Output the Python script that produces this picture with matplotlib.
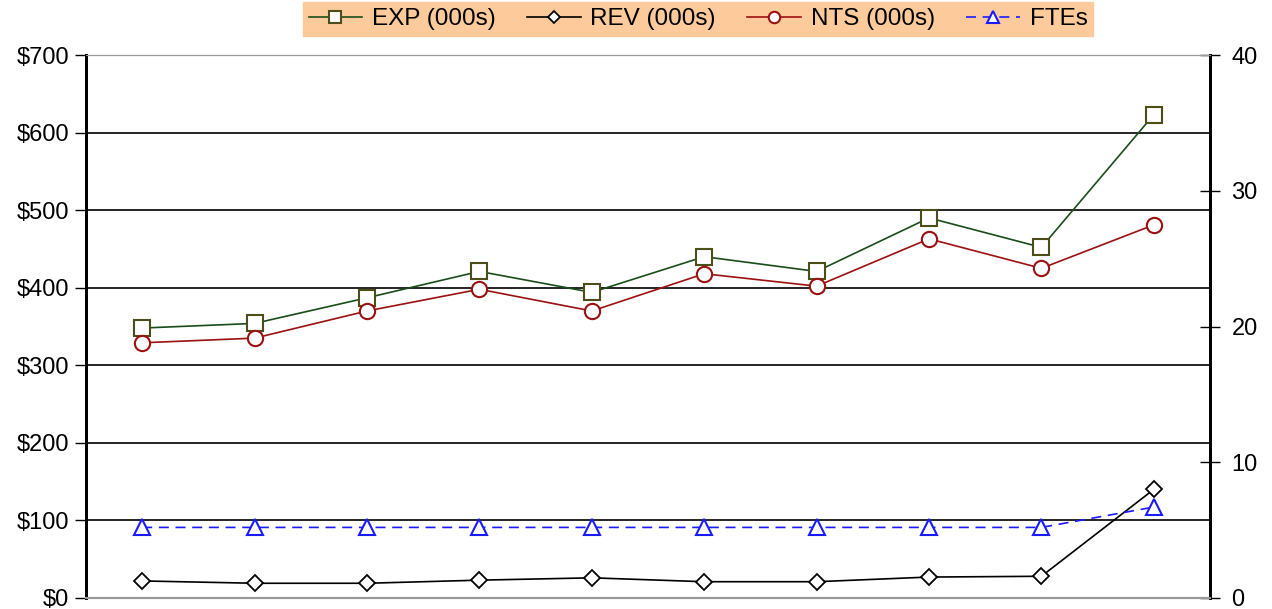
import numpy as np
import matplotlib.pyplot as plt
from matplotlib.ticker import FuncFormatter

plt.rcParams['font.family'] = ['Liberation Sans', 'DejaVu Sans']

periods = np.arange(10)
exp_k = [348, 354, 387, 421, 394, 440, 421, 490, 452, 623]
rev_k = [22, 19, 19, 23, 26, 21, 21, 27, 28, 140]
nts_k = [329, 335, 370, 398, 370, 418, 402, 463, 425, 481]
ftes = [5.2, 5.2, 5.2, 5.2, 5.2, 5.2, 5.2, 5.2, 5.2, 6.7]

fig = plt.figure(figsize=(12.72, 6.09), dpi=100)
ax = fig.add_axes([86/1272, 11/609, 1124/1272, 543/609])
ax2 = ax.twinx()

h1, = ax.plot(periods, exp_k, color='#1a4d1a', lw=1.2, marker='s', ms=11,
              mfc='white', mec='#4d4d1a', mew=1.5, label='EXP (000s)')
h2, = ax.plot(periods, rev_k, color='black', lw=1.2, marker='D', ms=8,
              mfc='white', mec='black', mew=1.3, label='REV (000s)')
h3, = ax.plot(periods, nts_k, color='#9b1010', lw=1.2, marker='o', ms=11,
              mfc='white', mec='#9b1010', mew=1.5, label='NTS (000s)')
h4, = ax2.plot(periods, ftes, color='#1a1aff', lw=1.2, ls=(0, (6, 4)), marker='^',
               ms=11, mfc='white', mec='#1a1aff', mew=1.5, label='FTEs')

ax.set_xlim(-0.5, 9.5)
ax.set_ylim(0, 700)
ax.set_yticks(np.arange(0, 701, 100))
ax.yaxis.set_major_formatter(FuncFormatter(lambda v, p: '${:d}'.format(int(v))))
ax.set_xticks([])
ax.grid(axis='y', color='black', lw=1.2)
ax.set_axisbelow(True)
ax.tick_params(axis='y', direction='out', length=8, width=1, labelsize=17, pad=4)

ax2.set_ylim(0, 40)
ax2.set_yticks(np.arange(0, 41, 10))
ax2.tick_params(axis='y', direction='inout', length=15, width=1, labelsize=17, pad=8)

for a in (ax, ax2):
    a.spines['top'].set_color('#999999')
    a.spines['bottom'].set_color('#999999')
    a.spines['left'].set_linewidth(2)
    a.spines['right'].set_linewidth(2)
    a.spines['bottom'].set_linewidth(1.5)

leg = fig.legend(handles=[h1, h2, h3, h4], loc='center', ncol=4,
                 bbox_to_anchor=(698/1272, 1 - 19/609), frameon=True,
                 fontsize=17.5, handlelength=2.2, handletextpad=0.4,
                 columnspacing=1.3, borderpad=0.25, markerscale=0.75)
leg.get_frame().set_facecolor('#fdcb9b')
leg.get_frame().set_edgecolor('#fdcb9b')
leg.get_frame().set_alpha(1)
leg.get_frame().set_boxstyle('square', pad=0)

fig.savefig('out.png', dpi=100)
